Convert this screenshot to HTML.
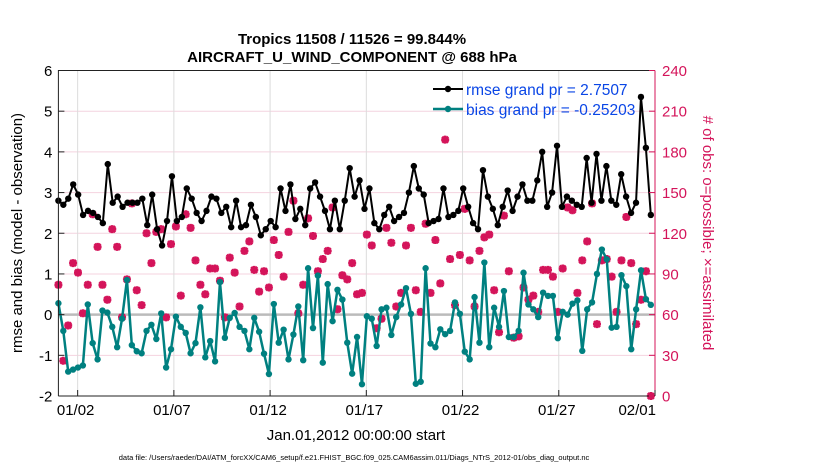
<!DOCTYPE html>
<html><head><meta charset="utf-8"><style>
body{margin:0;background:#fff;}
svg text{font-family:"Liberation Sans",sans-serif;}
</style></head><body>
<svg id="chart" width="830" height="470" viewBox="0 0 830 470" xmlns="http://www.w3.org/2000/svg">
<text x="352" y="44" text-anchor="middle" font-size="15" font-weight="bold">Tropics 11508 / 11526 = 99.844%</text>
<text x="352" y="62" text-anchor="middle" font-size="15" font-weight="bold">AIRCRAFT_U_WIND_COMPONENT @ 688 hPa</text>
<g id="grid"></g>
<g id="marks"></g>
<g id="axes"></g>
<text transform="translate(22,233) rotate(-90)" text-anchor="middle" font-size="15">rmse and bias (model - observation)</text>
<text transform="translate(703,233) rotate(90)" text-anchor="middle" font-size="15" fill="#d4145a"># of obs: o=possible; ×=assimilated</text>
<text x="356" y="440" text-anchor="middle" font-size="15">Jan.01,2012 00:00:00 start</text>
<text x="354" y="460" text-anchor="middle" font-size="7.5">data file: /Users/raeder/DAI/ATM_forcXX/CAM6_setup/f.e21.FHIST_BGC.f09_025.CAM6assim.011/Diags_NTrS_2012-01/obs_diag_output.nc</text>
<g>
<line x1="433" y1="89" x2="463" y2="89" stroke="#000" stroke-width="2"/><circle cx="448" cy="89" r="3.2" fill="#000"/>
<text x="466" y="95" font-size="15.5" fill="#0a46e6">rmse grand pr = 2.7507</text>
<line x1="433" y1="109" x2="463" y2="109" stroke="#008080" stroke-width="2.5"/><circle cx="448" cy="109" r="3.2" fill="#008080"/>
<text x="466" y="115" font-size="15.5" fill="#0a46e6">bias grand pr = -0.25203</text>
</g>
</svg>
<script>
const rmse=[2.8,2.7,2.85,3.2,2.95,2.45,2.55,2.5,2.4,2.25,3.7,2.75,2.9,2.65,2.75,2.75,2.75,2.85,2.2,2.95,2.1,1.7,2.3,3.4,2.3,2.4,3.1,2.85,2.5,2.3,2.55,2.9,
2.85,2.5,2.65,2.15,2.8,2.15,2.2,2.7,2.4,1.95,2.1,2.3,2.15,3.1,2.55,3.2,2.35,2.6,2.2,3.1,3.25,2.9,2.55,2.1,2.8,2.1,2.8,3.6,2.9,3.3,2.6,
3.1,2.25,2.1,2.45,2.65,2.3,2.4,2.5,3.0,3.65,3.1,2.95,2.25,2.3,2.35,3.1,2.4,2.45,2.55,3.1,2.65,2.25,2.1,3.55,2.9,2.6,2.2,2.65,3.05,2.55,2.9,3.2,
2.8,2.8,3.3,4.0,2.65,3.0,4.15,2.65,2.9,2.8,2.7,2.65,3.85,2.75,3.95,2.8,3.65,2.8,2.7,3.45,2.9,2.5,2.75,5.35,4.1,2.45];
const bias=[0.28,-0.4,-1.4,-1.35,-1.3,-1.25,0.25,-0.7,-1.1,0.1,0.05,-0.3,-0.8,-0.1,0.85,-0.75,-0.9,-0.95,-0.4,-0.25,-0.6,0.03,-1.3,-0.85,-0.05,-0.3,-0.45,-0.95,-0.7,0.18,-1.05,-0.65,
-1.15,0.8,-0.57,-0.08,0.04,-0.3,-0.4,-0.85,-0.08,-0.42,-0.96,-1.46,0.26,-0.69,-0.37,-1.1,-0.49,0.2,-1.12,1.14,-0.33,0.96,-1.18,0.75,-0.16,0.61,0.37,-0.69,-1.45,-0.55,-1.71,-0.04,
-0.1,-0.77,0.13,0.17,-0.5,-0.06,0.25,0.65,0.02,-1.7,-1.65,1.14,-0.71,-0.8,-0.36,-0.48,-0.4,0.3,0.02,-0.91,-1.1,0.43,-0.69,1.28,-0.8,0.17,-0.3,0.58,-0.55,-0.55,-0.4,1.03,
0.25,0.13,-0.06,0.54,0.46,0.46,-0.58,0.07,0.0,0.27,0.35,-0.89,0.13,0.3,1.0,1.6,1.36,-0.32,-0.3,0.97,0.7,-0.85,0.13,1.09,0.38,0.24];
const nobs=[82,26,52,98,91,61,82,134,110,82,71,123,110,58,86,142,78,67,120,98,121,123,58,112,125,74,134,124,100,82,75,
94,94,85,58,102,91,66,107,114,93,77,92,80,115,104,88,121,144,61,82,131,118,92,101,107,139,64,89,86,98,75,76,
119,111,50,57,124,113,66,76,111,124,78,62,127,76,115,83,189,101,67,104,138,100,66,107,117,119,78,47,133,92,43,44,
80,71,74,62,93,93,88,62,94,139,137,76,100,114,142,53,100,101,88,62,100,132,98,53,71,92,0];
const leftTicks=[-2,-1,0,1,2,3,4,5,6];
const rightTicks=[0,30,60,90,120,150,180,210,240];
const dateTicks=[1,6,11,16,21,26,31];
const dateLabels=["01/02","01/07","01/12","01/17","01/22","01/27","02/01"];
const X0=58.4,X1=655,Y0=396,Y1=70.5,DAYS=31;
const xs=d=>X0+(X1-X0)*d/DAYS;
const yl=v=>Y0-(v+2)*(Y0-Y1)/8;
const yr=v=>Y0-v*(Y0-Y1)/240;
const NS="http://www.w3.org/2000/svg";
function mk(tag,attrs,parent){const e=document.createElementNS(NS,tag);for(const k in attrs)e.setAttribute(k,attrs[k]);parent.appendChild(e);return e;}
const grid=document.getElementById('grid'),marks=document.getElementById('marks'),axes=document.getElementById('axes');
leftTicks.forEach(t=>{if(t===-2||t===6)return;const l=mk('line',{x1:X0,x2:X1,y1:yl(t),y2:yl(t),stroke:'#f4d3df','stroke-width':1},grid);

});
dateTicks.forEach(d=>{const l=mk('line',{x1:xs(d),x2:xs(d),y1:Y1,y2:Y0,stroke:'#dcdcdc','stroke-width':1},grid);

});
const zl=mk('line',{x1:X0,x2:X1,y1:yl(0),y2:yl(0),stroke:'#bbb','stroke-width':2.5},grid);


const tx=(arr,i)=>xs(i*DAYS/(arr.length-1)*0.993);
nobs.forEach((v,i)=>{const x=tx(nobs,i),y=yr(v);
const g=mk('g',{},marks);


mk('path',{d:`M${x-4},${y}H${x+4}M${x},${y-4}V${y+4}M${x-3},${y-3}L${x+3},${y+3}M${x-3},${y+3}L${x+3},${y-3}`,stroke:'#d4145a','stroke-width':2.6},g);});
function series(arr,col,lw,name){
const p=mk('polyline',{points:arr.map((v,i)=>tx(arr,i)+','+yl(v)).join(' '),fill:'none',stroke:col,'stroke-width':lw,'stroke-linejoin':'round'},marks);


arr.forEach((v,i)=>{const c=mk('circle',{cx:tx(arr,i),cy:yl(v),r:3.2,fill:col},marks);

});}
series(bias,'#008080',2.5,'bias');
series(rmse,'#000',2,'rmse');
const fr=mk('path',{d:`M${X0},${Y0}V${Y1}H${X1}`,fill:'none',stroke:'#222','stroke-width':1},axes);


const xa=mk('line',{x1:X0,x2:X1,y1:Y0,y2:Y0,stroke:'#222','stroke-width':1},axes);


const ra=mk('line',{x1:X1,x2:X1,y1:Y1,y2:Y0,stroke:'#d4145a','stroke-width':1},axes);


leftTicks.forEach(t=>{mk('line',{x1:X0,x2:X0+6,y1:yl(t),y2:yl(t),stroke:'#222'},axes);
const s=mk('text',{x:X0-6,y:yl(t)+5.5,'text-anchor':'end','font-size':15},axes);s.textContent=t;

});
rightTicks.forEach(t=>{mk('line',{x1:X1-6,x2:X1,y1:yr(t),y2:yr(t),stroke:'#d4145a'},axes);
const s=mk('text',{x:X1+7,y:yr(t)+5.5,'font-size':15,fill:'#d4145a'},axes);s.textContent=t;

});
dateTicks.forEach((d,i)=>{mk('line',{x1:xs(d),x2:xs(d),y1:Y0,y2:Y0-6,stroke:'#222'},axes);
const last=i===dateTicks.length-1;
const s=mk('text',{x:last?xs(d)+1:xs(d)-2,y:Y0+19,'text-anchor':last?'end':'middle','font-size':15},axes);s.textContent=dateLabels[i];

});
</script>
</body></html>
